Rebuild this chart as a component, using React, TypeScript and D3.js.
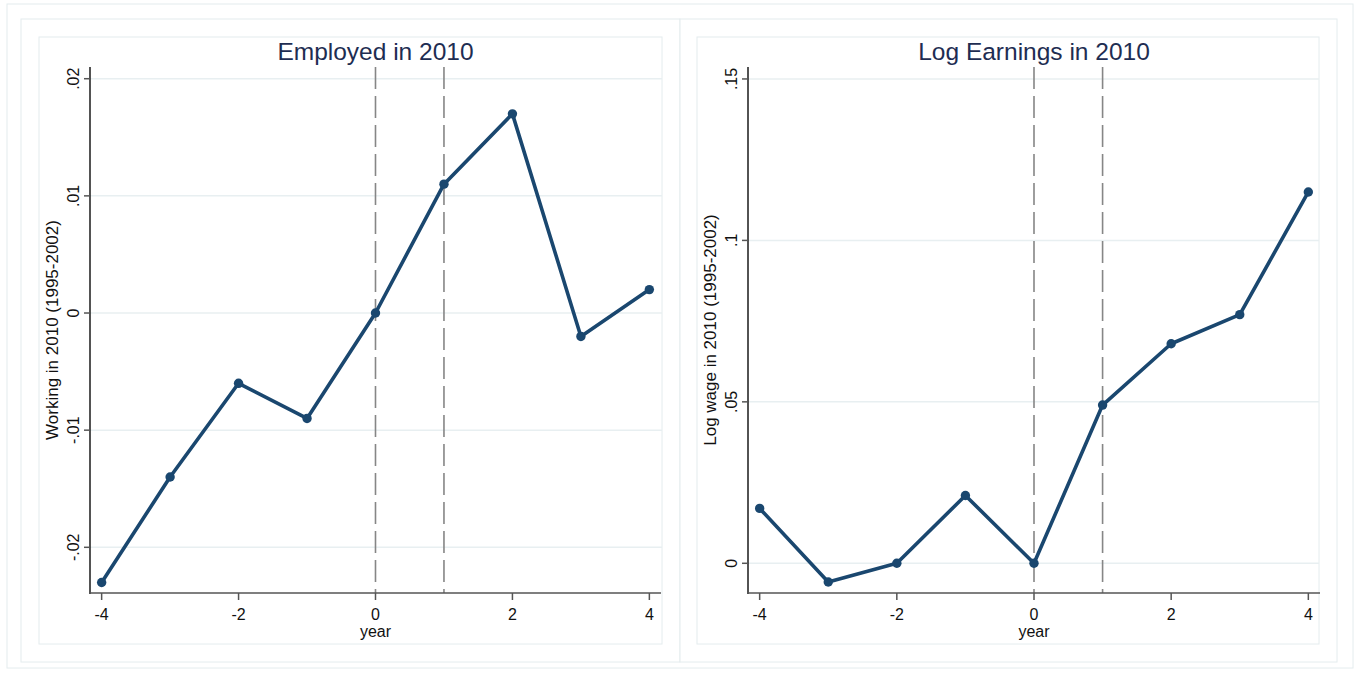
import React from "react";
import * as d3 from "d3";

// Event-time coefficients
const years = [-4, -3, -2, -1, 0, 1, 2, 3, 4];
const employedValues = [-0.023, -0.014, -0.006, -0.009, 0, 0.011, 0.017, -0.002, 0.002];
const earningsValues = [0.017, -0.0058, 0, 0.021, 0, 0.049, 0.068, 0.077, 0.115];

const xTicks = [-4, -2, 0, 2, 4];
const employedTicks = [-0.02, -0.01, 0, 0.01, 0.02];
const employedTickLabels = ["-.02", "-.01", "0", ".01", ".02"];
const earningsTicks = [0, 0.05, 0.1, 0.15];
const earningsTickLabels = ["0", ".05", ".1", ".15"];
const eventLines = [0, 1];

const FONT = "'Liberation Sans', Arial, Helvetica, sans-serif";
const LINE_COLOR = "#1a476f";
const BOX_COLOR = "#e4ecee";
const GRID_COLOR = "#e8eff1";

type PanelProps = {
  title: string;
  yTitle: string;
  values: number[];
  yTicks: number[];
  yTickLabels: string[];
  yDomain: [number, number];
  boxLeft: number;
  boxRight: number;
  axisLeft: number;
  axisRight: number;
};

const AXIS_TOP = 67;
const AXIS_BOTTOM = 593;
const BOX_TOP = 37;
const BOX_BOTTOM = 644;

function Panel(p: PanelProps) {
  const x = d3.scaleLinear().domain([-4.17, 4.17]).range([p.axisLeft, p.axisRight]);
  const y = d3.scaleLinear().domain(p.yDomain).range([AXIS_BOTTOM, AXIS_TOP]);
  const line = d3
    .line<number>()
    .x((_, i) => x(years[i]))
    .y((v) => y(v));
  const cx = (p.axisLeft + p.axisRight) / 2;
  const cy = (AXIS_TOP + AXIS_BOTTOM) / 2;
  return (
    <g>
      <rect
        x={p.boxLeft}
        y={BOX_TOP}
        width={p.boxRight - p.boxLeft}
        height={BOX_BOTTOM - BOX_TOP}
        fill="#ffffff"
        stroke={BOX_COLOR}
        strokeWidth={1}
      />
      {/* grid */}
      {p.yTicks.map((t) => (
        <line
          key={"g" + t}
          x1={p.axisLeft}
          x2={p.boxRight}
          y1={y(t)}
          y2={y(t)}
          stroke={GRID_COLOR}
          strokeWidth={1.5}
        />
      ))}
      {/* event lines */}
      {eventLines.map((e) => (
        <line
          key={"e" + e}
          x1={x(e)}
          x2={x(e)}
          y1={AXIS_TOP}
          y2={AXIS_BOTTOM}
          stroke="#868686"
          strokeWidth={1.6}
          strokeDasharray="22 7"
        />
      ))}
      {/* series */}
      <path d={line(p.values) || ""} fill="none" stroke={LINE_COLOR} strokeWidth={3.6} strokeLinejoin="round" />
      {p.values.map((v, i) => (
        <circle key={"c" + i} cx={x(years[i])} cy={y(v)} r={4.7} fill={LINE_COLOR} />
      ))}
      {/* y axis */}
      <line x1={p.axisLeft} x2={p.axisLeft} y1={AXIS_TOP} y2={AXIS_BOTTOM + 1} stroke="#1a1a1a" strokeWidth={1.5} />
      {p.yTicks.map((t, i) => (
        <g key={"yt" + t}>
          <line x1={p.axisLeft - 6} x2={p.axisLeft} y1={y(t)} y2={y(t)} stroke="#555" strokeWidth={1.5} />
          <text
            transform={`translate(${p.axisLeft - 11},${y(t)}) rotate(-90)`}
            textAnchor="middle"
            fontFamily={FONT}
            fontSize={16}
            fill="#111"
          >
            {p.yTickLabels[i]}
          </text>
        </g>
      ))}
      {/* x axis */}
      <line x1={p.axisLeft} x2={p.axisRight} y1={AXIS_BOTTOM} y2={AXIS_BOTTOM} stroke="#555" strokeWidth={1.5} />
      {xTicks.map((t) => (
        <g key={"xt" + t}>
          <line x1={x(t)} x2={x(t)} y1={AXIS_BOTTOM} y2={AXIS_BOTTOM + 7} stroke="#555" strokeWidth={1.5} />
          <text x={x(t)} y={AXIS_BOTTOM + 27} textAnchor="middle" fontFamily={FONT} fontSize={16} fill="#111">
            {t}
          </text>
        </g>
      ))}
      <text x={cx} y={637} textAnchor="middle" fontFamily={FONT} fontSize={16} fill="#111">
        year
      </text>
      <text
        transform={`translate(${p.axisLeft - 32},${cy}) rotate(-90)`}
        textAnchor="middle"
        fontFamily={FONT}
        fontSize={17}
        fill="#111"
      >
        {p.yTitle}
      </text>
      <text x={cx} y={60} textAnchor="middle" fontFamily={FONT} fontSize={24.5} fill="#1e2d52">
        {p.title}
      </text>
    </g>
  );
}

export default function App() {
  return (
    <svg
      width={1361}
      height={673}
      style={{ position: "absolute", left: 0, top: 0, display: "block", background: "#ffffff" }}
    >
      <rect x={0} y={0} width={1361} height={673} fill="#ffffff" />
      <rect x={7} y={4} width={1346} height={664} fill="#ffffff" stroke={BOX_COLOR} strokeWidth={1} />
      <rect x={21} y={19} width={659} height={643} fill="#ffffff" stroke={BOX_COLOR} strokeWidth={1} />
      <rect x={680} y={19} width={657} height={643} fill="#ffffff" stroke={BOX_COLOR} strokeWidth={1} />
      <Panel
        title="Employed in 2010"
        yTitle="Working in 2010 (1995-2002)"
        values={employedValues}
        yTicks={employedTicks}
        yTickLabels={employedTickLabels}
        yDomain={[-0.0239, 0.0210]}
        boxLeft={39}
        boxRight={662}
        axisLeft={90}
        axisRight={661}
      />
      <Panel
        title="Log Earnings in 2010"
        yTitle="Log wage in 2010 (1995-2002)"
        values={earningsValues}
        yTicks={earningsTicks}
        yTickLabels={earningsTickLabels}
        yDomain={[-0.0092, 0.1537]}
        boxLeft={697}
        boxRight={1319}
        axisLeft={748}
        axisRight={1320}
      />
    </svg>
  );
}
